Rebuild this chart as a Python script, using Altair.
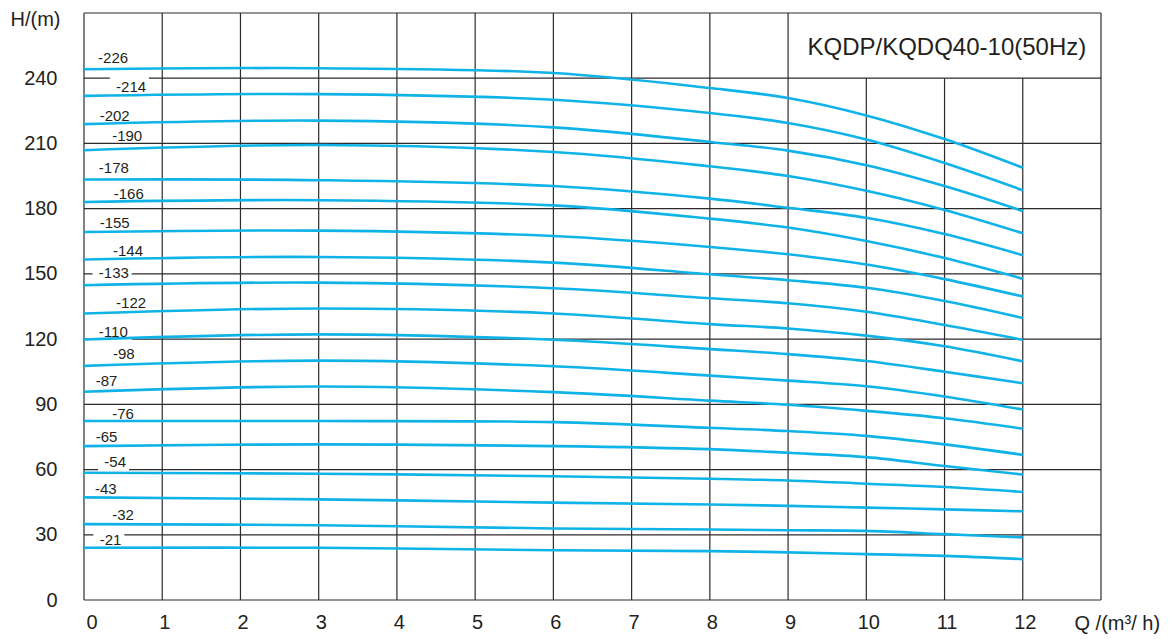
import altair as alt
import pandas as pd

# ---------------- data ----------------
q_points = [0, 3, 6, 8, 9, 10, 11, 12]

stages = ["-226", "-214", "-202", "-190", "-178", "-166", "-155", "-144", "-133",
          "-122", "-110", "-98", "-87", "-76", "-65", "-54", "-43", "-32", "-21"]

h_226 = [244.1, 244.6, 242.4, 235.5, 230.9, 222.9, 212.0, 198.8]
h_214 = [231.9, 232.7, 230.1, 224.0, 219.4, 211.8, 201.0, 188.5]
h_202 = [218.9, 220.5, 217.4, 210.7, 206.7, 200.0, 190.4, 178.9]
h_190 = [206.9, 209.3, 206.1, 199.5, 195.0, 188.2, 179.4, 168.7]
h_178 = [193.4, 193.1, 190.4, 184.6, 180.4, 175.8, 168.3, 158.6]
h_166 = [183.1, 183.9, 181.5, 175.4, 171.3, 165.1, 157.3, 147.8]
h_155 = [169.3, 169.9, 167.4, 162.4, 159.0, 154.3, 147.6, 139.6]
h_144 = [156.6, 157.8, 155.2, 149.8, 147.1, 143.6, 137.5, 129.7]
h_133 = [144.8, 146.0, 143.4, 138.8, 136.5, 132.6, 126.5, 119.7]
h_122 = [131.8, 134.1, 131.8, 126.9, 124.9, 121.6, 116.7, 109.8]
h_110 = [119.8, 122.2, 119.7, 115.4, 113.1, 109.9, 105.0, 99.7]
h_98 = [107.7, 110.1, 107.5, 103.2, 100.9, 98.3, 93.6, 87.6]
h_87 = [95.8, 98.2, 95.6, 91.7, 89.8, 87.0, 83.6, 78.8]
h_76 = [82.3, 82.3, 81.8, 79.2, 77.7, 75.5, 71.6, 66.8]
h_65 = [70.8, 71.6, 70.8, 69.4, 67.7, 65.7, 61.6, 57.7]
h_54 = [58.5, 58.1, 56.9, 55.8, 55.0, 53.5, 52.0, 49.7]
h_43 = [47.2, 46.3, 44.8, 43.9, 43.3, 42.5, 41.7, 40.8]
h_32 = [34.9, 34.4, 32.9, 32.4, 32.1, 31.8, 30.3, 28.8]
h_21 = [24.0, 24.0, 22.9, 22.5, 21.9, 21.1, 20.3, 18.8]

heads = [h_226, h_214, h_202, h_190, h_178, h_166, h_155, h_144, h_133,
         h_122, h_110, h_98, h_87, h_76, h_65, h_54, h_43, h_32, h_21]

# label anchor points (data coordinates: Q, H)
label_q = [0.18, 0.41, 0.20, 0.36, 0.19, 0.38, 0.20, 0.37, 0.19,
           0.41, 0.19, 0.37, 0.15, 0.36, 0.15, 0.26, 0.14, 0.36, 0.20]
label_h = [249.5, 235.8, 222.8, 213.6, 198.8, 186.6, 173.5, 160.6, 150.3,
           136.4, 123.5, 113.2, 100.6, 85.6, 74.9, 63.5, 51.1, 39.3, 27.5]
# labels that interrupt a grid line in the reference
knockout_labels = ["-214", "-133", "-110", "-54", "-21"]

x_ticks = list(range(0, 13))
y_ticks = list(range(0, 241, 30))
x_max = 13
y_max = 270
box_from_q = 10  # vertical grid lines from here on stop under the title box
title_q = 11.03
title_h = 254
chart_title = "KQDP/KQDQ40-10(50Hz)"

# ---------------- styles ----------------
FONT = "Liberation Sans"
TEXT = "#231f20"
GRID = "#2e2a2b"
CYAN = "#0fb3e8"

# ---------------- tables ----------------
rows = []
for s, hs in zip(stages, heads):
    for q, h in zip(q_points, hs):
        rows.append({"stage": s, "q": q, "h": h})
curves = pd.DataFrame(rows)

labels = pd.DataFrame({"stage": stages, "q": label_q, "h": label_h})
ko = labels[labels["stage"].isin(knockout_labels)].copy()
ko["q0"] = ko["q"] - 0.08
ko["q1"] = ko["q"] + ko["stage"].str.len() * 0.105
ko["h0"] = ko["h"] - 5
ko["h1"] = ko["h"] + 5

hlines = pd.DataFrame({"h": list(range(0, y_max + 1, 30))})
hlines["q0"] = 0
hlines["q1"] = x_max
vq = list(range(0, x_max + 1))
vlines = pd.DataFrame({"q": vq,
                       "top": [240 if box_from_q <= q < x_max else y_max for q in vq]})
vlines["bottom"] = 0

title_df = pd.DataFrame({"q": [title_q], "h": [title_h], "t": [chart_title]})

xs = alt.Scale(domain=[0, x_max], nice=False, zero=False)
ys = alt.Scale(domain=[0, y_max], nice=False, zero=False)

x_axis = alt.Axis(
    values=x_ticks, format="d", title="Q /(m³/ h)",
    titleX=990, titleY=23, titleAlign="left", titleBaseline="middle",
    titleFontSize=20, titleFontWeight="normal", titleFont=FONT, titleColor=TEXT,
    labelFontSize=20, labelFont=FONT, labelColor=TEXT, labelPadding=12, labelOffset=2,
    grid=False, domain=False, ticks=False)
y_axis = alt.Axis(
    values=y_ticks, format="d", title="H/(m)",
    titleX=-74, titleY=-4, titleAngle=0, titleAlign="left", titleBaseline="top",
    titleFontSize=20, titleFontWeight="normal", titleFont=FONT, titleColor=TEXT,
    labelFontSize=20, labelFont=FONT, labelColor=TEXT, labelPadding=27,
    grid=False, domain=False, ticks=False)

hgrid = alt.Chart(hlines).mark_rule(color=GRID, strokeWidth=1.2).encode(
    x=alt.X("q0:Q", scale=xs, axis=x_axis), x2="q1:Q",
    y=alt.Y("h:Q", scale=ys, axis=y_axis))

vgrid = alt.Chart(vlines).mark_rule(color=GRID, strokeWidth=1.2).encode(
    x=alt.X("q:Q", scale=xs, axis=x_axis),
    y=alt.Y("bottom:Q", scale=ys, axis=y_axis), y2="top:Q")

knock = alt.Chart(ko).mark_rect(color="white").encode(
    x=alt.X("q0:Q", scale=xs, axis=x_axis), x2="q1:Q",
    y=alt.Y("h0:Q", scale=ys, axis=y_axis), y2="h1:Q")

lines = alt.Chart(curves).mark_line(
    interpolate="catmull-rom", strokeWidth=2.6, color=CYAN
).encode(
    x=alt.X("q:Q", scale=xs, axis=x_axis),
    y=alt.Y("h:Q", scale=ys, axis=y_axis),
    detail="stage:N",
    order="q:Q")

label_marks = alt.Chart(labels).mark_text(
    align="left", baseline="middle", fontSize=15, font=FONT, color=TEXT
).encode(
    x=alt.X("q:Q", scale=xs, axis=x_axis),
    y=alt.Y("h:Q", scale=ys, axis=y_axis),
    text="stage:N")

title_mark = alt.Chart(title_df).mark_text(
    align="center", baseline="middle", fontSize=24, font=FONT, color=TEXT
).encode(
    x=alt.X("q:Q", scale=xs, axis=x_axis),
    y=alt.Y("h:Q", scale=ys, axis=y_axis),
    text="t:N")

chart = alt.layer(hgrid, vgrid, knock, lines, label_marks, title_mark).properties(
    width=1017, height=587,
    autosize=alt.AutoSizeParams(type="none"),
    padding={"left": 76, "top": 5, "right": 60, "bottom": 39},
    background="white",
).configure_view(stroke=None)

chart.save("out.html", embed_options={"renderer": "svg", "actions": False})
